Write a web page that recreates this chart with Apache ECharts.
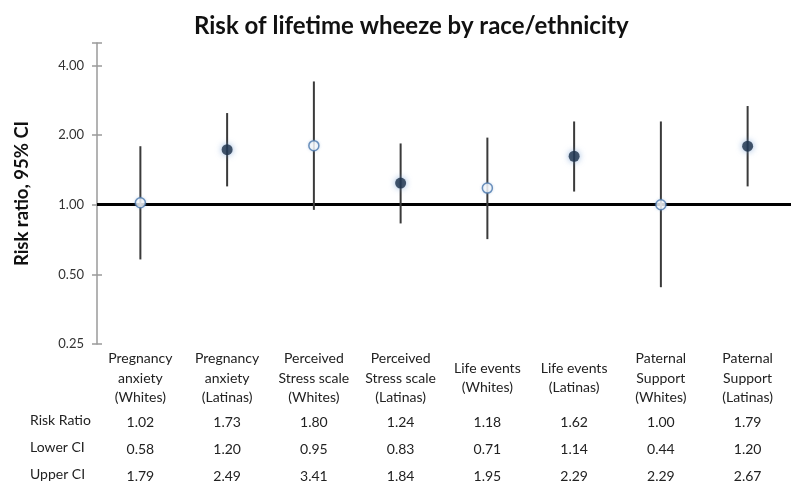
<!DOCTYPE html>
<html>
<head>
<meta charset="utf-8">
<script src="https://cdn.jsdelivr.net/npm/echarts@6/dist/echarts.min.js"></script>
<style>
html,body{margin:0;padding:0;background:#fff;}
#chart{width:800px;height:484px;}
</style>
</head>
<body>
<div id="chart"></div>
<script>
var categories = [
  'Pregnancy\nanxiety\n(Whites)',
  'Pregnancy\nanxiety\n(Latinas)',
  'Perceived\nStress scale\n(Whites)',
  'Perceived\nStress scale\n(Latinas)',
  'Life events\n(Whites)',
  'Life events\n(Latinas)',
  'Paternal\nSupport\n(Whites)',
  'Paternal\nSupport\n(Latinas)'
];
var riskRatio = [1.02, 1.73, 1.80, 1.24, 1.18, 1.62, 1.00, 1.79];
var lowerCI   = [0.58, 1.20, 0.95, 0.83, 0.71, 1.14, 0.44, 1.20];
var upperCI   = [1.79, 2.49, 3.41, 1.84, 1.95, 2.29, 2.29, 2.67];
var groups    = ['W', 'L', 'W', 'L', 'W', 'L', 'W', 'L'];
var yTickValues = [0.25, 0.5, 1, 2, 4];
var rowHeaders = ['Risk Ratio', 'Lower CI', 'Upper CI'];
var referenceValue = 1;

var FONT = 'Lato';
var chart = echarts.init(document.getElementById('chart'), null, {renderer: 'canvas'});

var whitesData = riskRatio.map(function (v, i) { return groups[i] === 'W' ? [i, v] : [i, '-']; });
var latinasData = riskRatio.map(function (v, i) { return groups[i] === 'L' ? [i, v] : [i, '-']; });
var ciData = riskRatio.map(function (v, i) { return [i, lowerCI[i], upperCI[i]]; });

function tableAxis(arr, margin) {
  return {
    type: 'category', data: categories, position: 'bottom', gridIndex: 0,
    axisLine: {show: false}, axisTick: {show: false},
    axisLabel: {
      interval: 0, margin: margin, verticalAlign: 'middle',
      fontFamily: FONT, fontSize: 14, color: '#222',
      formatter: function (val, idx) { return arr[idx].toFixed(2); }
    }
  };
}

var rowMargins = [78, 105, 132];

var option = {
  backgroundColor: '#fff',
  animation: false,
  title: {
    text: 'Risk of lifetime wheeze by race/ethnicity',
    left: 189, top: 9,
    textStyle: {fontFamily: FONT, fontSize: 24, fontWeight: 'bold', color: '#111'}
  },
  grid: {left: 97, right: 9, top: 43, bottom: 140},
  xAxis: [
    {
      type: 'category', data: categories, position: 'bottom',
      axisLine: {show: false}, axisTick: {show: false},
      axisLabel: {
        interval: 0, margin: 34, verticalAlign: 'middle',
        fontFamily: FONT, fontSize: 14, lineHeight: 19.5, color: '#222'
      }
    },
    tableAxis(riskRatio, rowMargins[0]),
    tableAxis(lowerCI, rowMargins[1]),
    tableAxis(upperCI, rowMargins[2])
  ],
  yAxis: [
    {
      type: 'log', logBase: 2, min: 0.25, max: 5,
      name: 'Risk ratio, 95% CI', nameLocation: 'middle', nameGap: 65,
      nameTextStyle: {fontFamily: FONT, fontSize: 18.5, fontWeight: 'bold', color: '#111'},
      axisLine: {show: true, lineStyle: {color: '#9a9a9a', width: 1.5}},
      axisTick: {show: true, inside: false, length: 5, lineStyle: {color: '#9a9a9a', width: 1.5}},
      splitLine: {show: false},
      axisLabel: {
        margin: 13, fontFamily: FONT, fontSize: 13, color: '#333',
        formatter: function (v) {
          var r = Math.round(v * 100) / 100;
          return yTickValues.indexOf(r) >= 0 ? r.toFixed(2) : '';
        }
      }
    },
    {
      type: 'log', logBase: 2, min: 0.25, max: 5, position: 'left',
      axisLine: {show: false},
      axisTick: {show: true, inside: true, length: 5, lineStyle: {color: '#9a9a9a', width: 1.5}},
      axisLabel: {show: false}, splitLine: {show: false}
    }
  ],
  graphic: rowHeaders.map(function (t, k) {
    return {
      type: 'text', left: 30, top: 344 + rowMargins[k] - 9,
      style: {text: t, fontFamily: FONT, fontSize: 14, fill: '#222'}
    };
  }),
  series: [
    {
      type: 'custom', name: 'CI', xAxisIndex: 0, yAxisIndex: 0, z: 3,
      data: ciData,
      renderItem: function (params, api) {
        var lo = api.coord([api.value(0), api.value(1)]);
        var hi = api.coord([api.value(0), api.value(2)]);
        return {
          type: 'line',
          shape: {x1: lo[0], y1: lo[1], x2: hi[0], y2: hi[1]},
          style: {stroke: '#3a3a3a', lineWidth: 2}
        };
      },
      markLine: {
        silent: true, symbol: ['none', 'none'], z: 2,
        label: {show: false},
        lineStyle: {color: '#000', width: 3, type: 'solid'},
        data: [{yAxis: referenceValue}]
      }
    },
    {
      type: 'scatter', name: 'Whites', xAxisIndex: 0, yAxisIndex: 0, z: 5,
      data: whitesData, symbol: 'circle', symbolSize: 10,
      itemStyle: {color: '#fff', borderColor: '#4a77ad', borderWidth: 1.5,
        shadowBlur: 3, shadowColor: 'rgba(120,160,210,0.35)'}
    },
    {
      type: 'scatter', name: 'Latinas', xAxisIndex: 0, yAxisIndex: 0, z: 5,
      data: latinasData, symbol: 'circle', symbolSize: 11,
      itemStyle: {color: '#1b2f48', borderColor: '#1b2f48', borderWidth: 0,
        shadowBlur: 6, shadowColor: 'rgba(90,140,200,0.8)'}
    }
  ]
};
chart.setOption(option);
</script>
</body>
</html>
